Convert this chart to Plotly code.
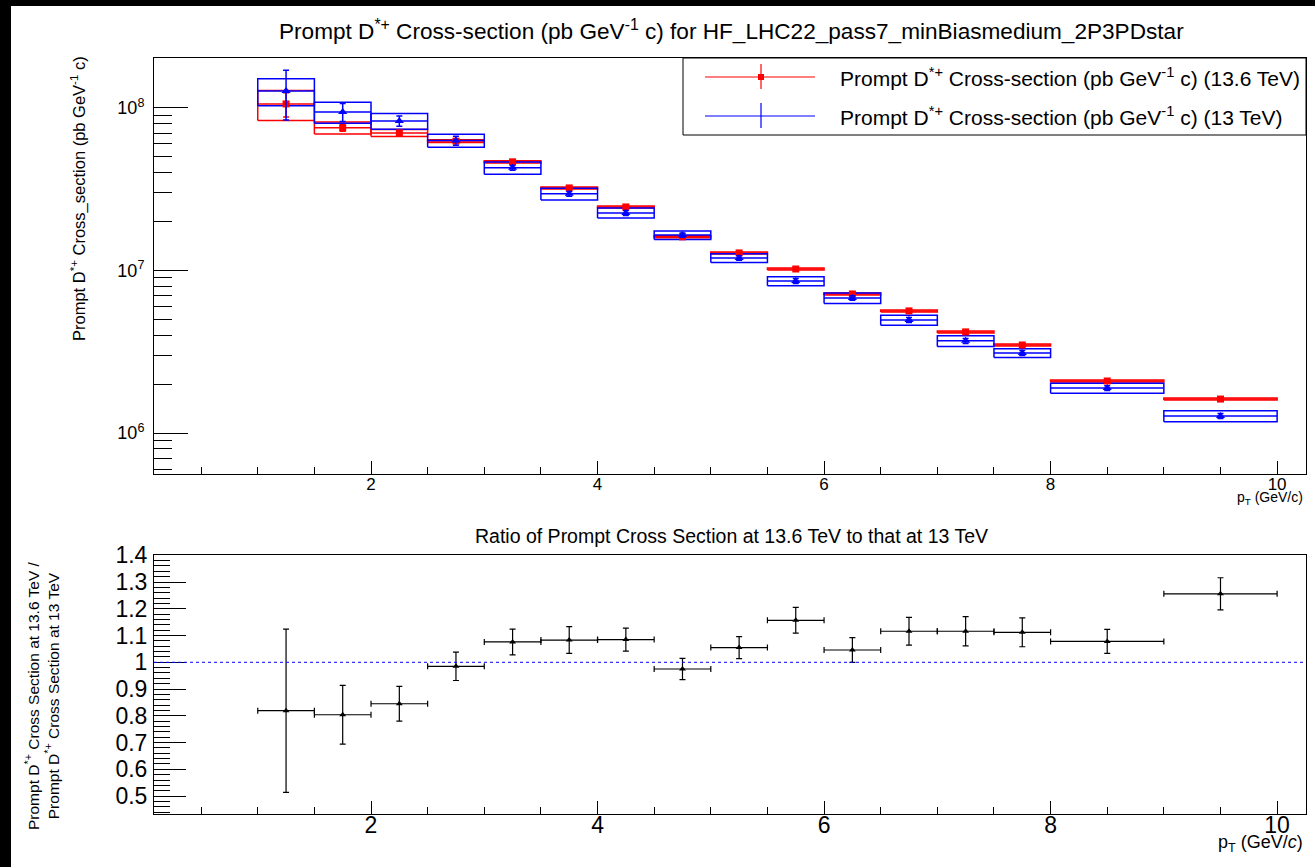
import plotly.graph_objects as go

# ---------------- data ----------------
pt_lo = [1.0, 1.5, 2.0, 2.5, 3.0, 3.5, 4.0, 4.5, 5.0, 5.5, 6.0, 6.5, 7.0, 7.5, 8.0, 9.0]
pt_hi = [1.5, 2.0, 2.5, 3.0, 3.5, 4.0, 4.5, 5.0, 5.5, 6.0, 6.5, 7.0, 7.5, 8.0, 9.0, 10.0]

# 13.6 TeV (red)
xsec_136 = [1.058e8, 7.54e7, 7.02e7, 6.25e7, 4.66e7, 3.22e7, 2.46e7, 1.61e7,
            1.282e7, 1.021e7, 7.17e6, 5.64e6, 4.19e6, 3.48e6, 2.09e6, 1.618e6]
box_136 = [2.2e7, 6.4e6, 3.5e6, 1.2e6, 7.0e5, 4.5e5, 3.5e5, 2.3e5,
           1.8e5, 1.4e5, 1.0e5, 8.0e4, 6.0e4, 5.0e4, 3.0e4, 2.2e4]
err_136 = [1.8e7, 3.5e6, 1.5e6, 8.0e5, 5.0e5, 4.0e5, 3.0e5, 2.0e5,
           1.5e5, 1.2e5, 9.0e4, 7.0e4, 5.0e4, 4.0e4, 2.5e4, 2.0e4]

# 13 TeV (blue)
xsec_13 = [1.272e8, 9.45e7, 8.32e7, 6.30e7, 4.28e7, 2.96e7, 2.26e7, 1.65e7,
           1.194e7, 8.61e6, 6.77e6, 4.96e6, 3.69e6, 3.11e6, 1.89e6, 1.273e6]
box_13 = [2.4e7, 1.4e7, 9.2e6, 5.8e6, 3.7e6, 2.5e6, 1.6e6, 1.0e6,
          7.5e5, 5.5e5, 5.0e5, 3.5e5, 2.8e5, 1.9e5, 1.35e5, 1.0e5]
err_13 = [4.3e7, 1.2e7, 6.0e6, 4.0e6, 1.5e6, 1.0e6, 8.0e5, 5.0e5,
          4.0e5, 3.0e5, 2.2e5, 1.7e5, 1.3e5, 1.1e5, 6.5e4, 4.5e4]

# ratio 13.6 / 13
ratio = [0.819, 0.804, 0.845, 0.985, 1.076, 1.083, 1.085, 0.975,
         1.055, 1.157, 1.046, 1.116, 1.116, 1.112, 1.078, 1.256]
ratio_err = [0.305, 0.110, 0.065, 0.053, 0.048, 0.050, 0.043, 0.040,
             0.041, 0.048, 0.046, 0.052, 0.055, 0.054, 0.045, 0.060]

y_ticks_top = [1e6, 1e7, 1e8]
y_ticktext_top = ["10<sup>6</sup>", "10<sup>7</sup>", "10<sup>8</sup>"]

FONT = "Liberation Sans, Arial, Helvetica, sans-serif"
W, H = 1315, 867

centers = [(a + b) / 2 for a, b in zip(pt_lo, pt_hi)]
halfw = [(b - a) / 2 for a, b in zip(pt_lo, pt_hi)]


def box_path(lo, hi, val, err):
    xs, ys = [], []
    for l, h, v, e in zip(lo, hi, val, err):
        xs += [l, h, h, l, l, None, l, h, None]
        ys += [v - e, v - e, v + e, v + e, v - e, None, v, v, None]
    return xs, ys


fig = go.Figure()

rx, ry = box_path(pt_lo, pt_hi, xsec_136, box_136)
fig.add_trace(go.Scatter(x=rx, y=ry, mode="lines", line=dict(color="red", width=1.5),
                         hoverinfo="skip", xaxis="x", yaxis="y"))
bx, by = box_path(pt_lo, pt_hi, xsec_13, box_13)
fig.add_trace(go.Scatter(x=bx, y=by, mode="lines", line=dict(color="blue", width=1.5),
                         hoverinfo="skip", xaxis="x", yaxis="y"))

fig.add_trace(go.Scatter(x=centers, y=xsec_136, mode="markers",
                         marker=dict(symbol="square", size=7, color="red"),
                         error_y=dict(type="data", array=err_136, color="red", thickness=1.5, width=3),
                         xaxis="x", yaxis="y", name="13.6 TeV"))
fig.add_trace(go.Scatter(x=centers, y=xsec_13, mode="markers",
                         marker=dict(symbol="triangle-up", size=8, color="blue"),
                         error_y=dict(type="data", array=err_13, color="blue", thickness=1.5, width=3),
                         xaxis="x", yaxis="y", name="13 TeV"))

fig.add_trace(go.Scatter(x=centers, y=ratio, mode="markers",
                         marker=dict(symbol="triangle-up", size=6, color="black"),
                         error_x=dict(type="data", array=halfw, color="black", thickness=1.2, width=3),
                         error_y=dict(type="data", array=ratio_err, color="black", thickness=1.2, width=3),
                         xaxis="x2", yaxis="y2", name="ratio"))

xdom = [154 / W, 1306 / W]
xrange_ = [0.084, 10.255]

axis_common = dict(showline=True, linecolor="black", linewidth=1, mirror=True, automargin=False,
                   showgrid=False, zeroline=False, ticks="inside", tickcolor="black")

minor_y_top = [k * 10 ** n for n in range(5, 9) for k in range(2, 10)]

fig.update_layout(
    width=W, height=H,
    margin=dict(l=0, r=0, t=0, b=0, pad=0),
    paper_bgcolor="black", plot_bgcolor="white",
    showlegend=False,
    font=dict(family=FONT, color="black"),
    xaxis=dict(domain=xdom, range=xrange_, anchor="y", tick0=0, dtick=2, ticklen=13,
               tickfont=dict(size=17), ticklabelstandoff=-5,
               minor=dict(dtick=0.5, tick0=0, ticklen=7, ticks="inside", tickcolor="black"),
               **axis_common),
    yaxis=dict(domain=[1 - 474 / H, 1 - 58 / H], type="log", range=[5.748, 8.307], anchor="x",
               tickmode="array", tickvals=y_ticks_top, ticktext=y_ticktext_top, ticklen=34,
               tickfont=dict(size=18), ticklabelstandoff=5,
               minor=dict(tickmode="array", tickvals=minor_y_top, ticklen=18, ticks="inside",
                          tickcolor="black"),
               **axis_common),
    xaxis2=dict(domain=xdom, range=xrange_, anchor="y2", tick0=0, dtick=2, ticklen=13,
                tickfont=dict(size=23), ticklabelstandoff=-10,
                minor=dict(dtick=0.5, tick0=0, ticklen=7, ticks="inside", tickcolor="black"),
                **axis_common),
    yaxis2=dict(domain=[1 - 814 / H, 1 - 555 / H], range=[0.433, 1.401], anchor="x2",
                tick0=0, dtick=0.1, ticklen=32, tickfont=dict(size=23), ticklabelstandoff=1,
                minor=dict(dtick=0.02, tick0=0, ticklen=16, ticks="inside", tickcolor="black"),
                **axis_common),
)

shapes = []
# white canvas (black strips left and top like the reference)
shapes.append(dict(type="rect", xref="paper", yref="paper", x0=11 / W, x1=1, y0=0, y1=1 - 6 / H,
                   fillcolor="white", line=dict(width=0), layer="below"))
# dotted line at ratio = 1
shapes.append(dict(type="line", xref="x2 domain", yref="y2", x0=0, x1=1, y0=1, y1=1,
                   line=dict(color="blue", width=1, dash="dot")))
# legend box
shapes.append(dict(type="rect", xref="paper", yref="paper", x0=683 / W, x1=1306 / W,
                   y0=1 - 135 / H, y1=1 - 58 / H, fillcolor="white", line=dict(color="black", width=1)))
# legend glyphs
for yy, col in [(77, "red"), (116, "blue")]:
    shapes.append(dict(type="line", xref="paper", yref="paper", x0=705 / W, x1=815 / W,
                       y0=1 - yy / H, y1=1 - yy / H, line=dict(color=col, width=1.2)))
    shapes.append(dict(type="line", xref="paper", yref="paper", x0=761 / W, x1=761 / W,
                       y0=1 - (yy - 13) / H, y1=1 - (yy + 12) / H, line=dict(color=col, width=1.2)))
shapes.append(dict(type="rect", xref="paper", yref="paper", x0=758 / W, x1=764 / W,
                   y0=1 - 80 / H, y1=1 - 74 / H, fillcolor="red", line=dict(width=0)))
fig.update_layout(shapes=shapes)

ann = []
ann.append(dict(text="Prompt D<sup>*+</sup> Cross-section (pb GeV<sup>-1</sup> c) for HF_LHC22_pass7_minBiasmedium_2P3PDstar",
                xref="paper", yref="paper", x=731 / W, y=1 - 30 / H, showarrow=False,
                xanchor="center", yanchor="middle", font=dict(size=22.6)))
ann.append(dict(text="Ratio of Prompt Cross Section at 13.6 TeV to that at 13 TeV",
                xref="paper", yref="paper", x=731 / W, y=1 - 536 / H, showarrow=False,
                xanchor="center", yanchor="middle", font=dict(size=19.5)))
ann.append(dict(text="Prompt D<sup>*+</sup> Cross_section (pb GeV<sup>-1</sup> c)",
                xref="paper", yref="paper", x=78 / W, y=1 - 199 / H, showarrow=False, textangle=-90,
                xanchor="center", yanchor="middle", font=dict(size=16.5)))
ann.append(dict(text="Prompt D<sup>*+</sup> Cross Section at 13.6 TeV /<br>Prompt D<sup>*+</sup> Cross Section at 13 TeV",
                xref="paper", yref="paper", x=42 / W, y=1 - 696 / H, showarrow=False, textangle=-90,
                xanchor="center", yanchor="middle", align="center", font=dict(size=15.5)))
ann.append(dict(text="p<sub>T</sub> (GeV/c)", xref="paper", yref="paper", x=1305 / W, y=1 - 498 / H,
                showarrow=False, xanchor="right", yanchor="middle", font=dict(size=14)))
ann.append(dict(text="p<sub>T</sub> (GeV/<i>c</i>)", xref="paper", yref="paper", x=1305 / W, y=1 - 843 / H,
                showarrow=False, xanchor="right", yanchor="middle", font=dict(size=18)))
ann.append(dict(text="Prompt D<sup>*+</sup> Cross-section (pb GeV<sup>-1</sup> c) (13.6 TeV)",
                xref="paper", yref="paper", x=838 / W, y=1 - 77 / H, showarrow=False,
                xanchor="left", yanchor="middle", font=dict(size=21)))
ann.append(dict(text="Prompt D<sup>*+</sup> Cross-section (pb GeV<sup>-1</sup> c) (13 TeV)",
                xref="paper", yref="paper", x=838 / W, y=1 - 116 / H, showarrow=False,
                xanchor="left", yanchor="middle", font=dict(size=21)))
fig.update_layout(annotations=ann)

fig.write_html("out.html")
